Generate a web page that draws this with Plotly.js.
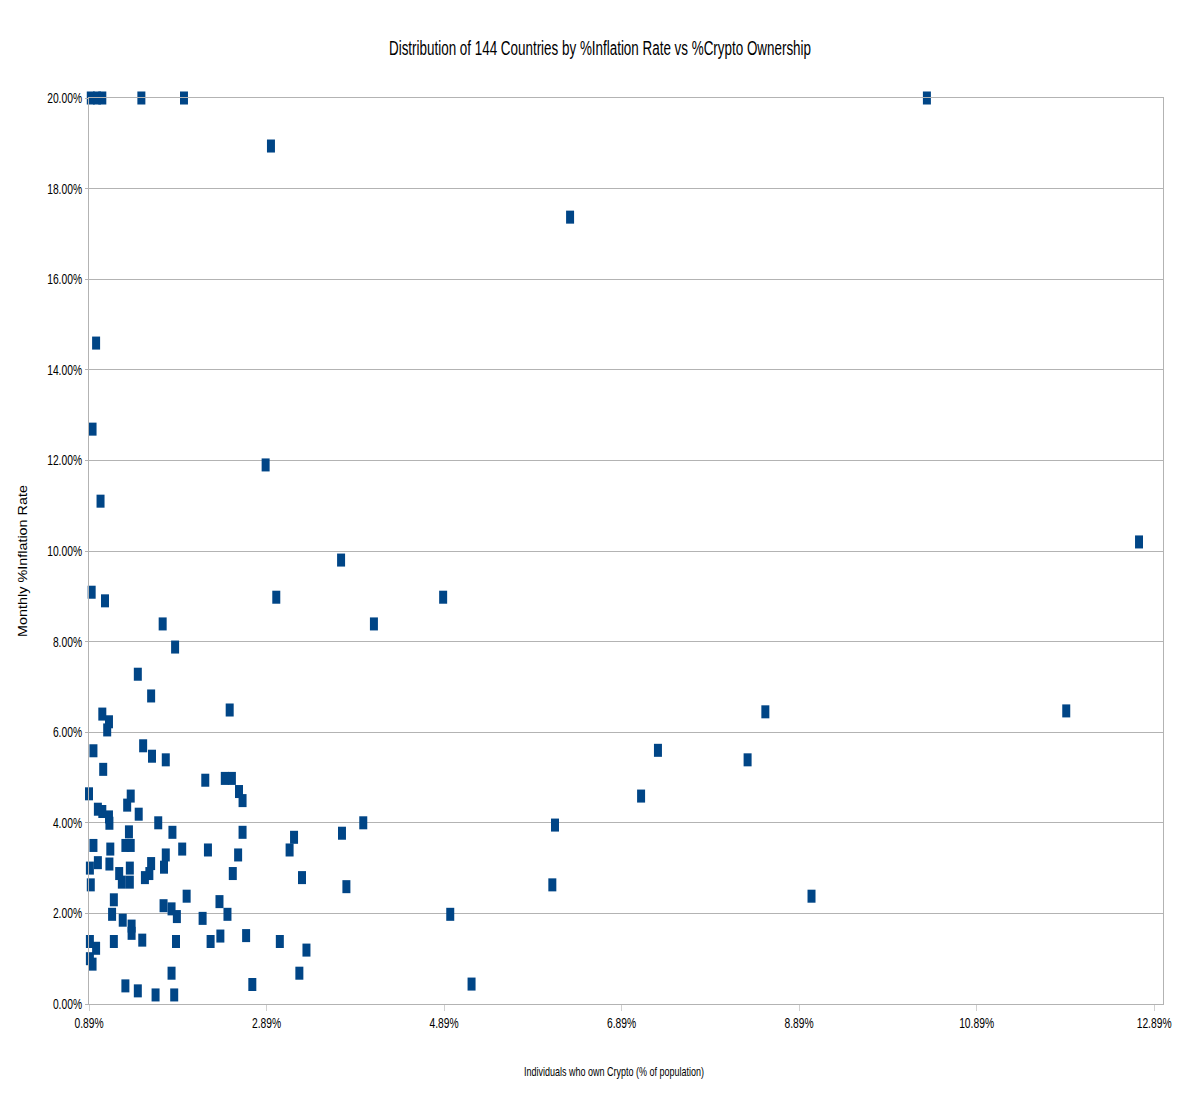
<!DOCTYPE html>
<html>
<head>
<meta charset="utf-8">
<script src="https://cdn.plot.ly/plotly-3.0.1.min.js"></script>
<style>html,body{margin:0;padding:0;background:#fff}#chart{width:1200px;height:1103px}</style>
</head>
<body>
<div id="chart"></div>
<script>
// % of population owning crypto
const cryptoOwnership = [
  0.91, 0.98, 1.04, 1.48, 1.96, 10.33, 2.94, 6.31, 0.97, 0.93,
  2.88, 1.02, 12.72, 3.73, 0.92, 1.07, 3.00, 4.88, 1.72, 4.10,
  1.86, 1.44, 1.59, 2.475, 8.51, 11.90, 1.04, 1.115, 1.095, 1.50,
  0.94, 7.30, 1.60, 1.755, 8.31, 1.05, 2.20, 2.42, 2.50, 2.58,
  2.62, 0.89, 1.36, 7.11, 1.32, 0.99, 1.04, 1.115, 1.12, 1.45,
  1.67, 3.98, 6.14, 1.34, 1.83, 2.62, 3.74, 3.20, 0.94, 1.30,
  1.36, 1.13, 1.94, 2.23, 3.15, 1.755, 2.57, 0.99, 1.12, 1.59,
  0.90, 1.35, 1.735, 1.23, 1.57, 2.51, 1.52, 3.29, 1.26, 1.35,
  0.91, 3.79, 6.11, 1.99, 9.03, 1.17, 2.36, 1.73, 1.82, 1.15,
  1.88, 2.45, 4.96, 1.27, 2.17, 1.37, 1.37, 2.37, 2.66, 0.90,
  1.17, 1.49, 1.87, 2.26, 3.04, 0.97, 3.34, 0.90, 0.93, 1.82,
  3.26, 2.73, 5.20, 1.30, 1.44, 1.64, 1.85
];
// monthly inflation rate, %
const inflationRate = [
  20.00, 20.00, 20.00, 20.00, 20.00, 20.00, 18.94, 17.37, 14.59, 12.69,
  11.90, 11.10, 10.20, 9.80, 9.09, 8.90, 8.98, 8.98, 8.39, 8.39,
  7.88, 7.28, 6.80, 6.49, 6.45, 6.47, 6.40, 6.23, 6.05, 5.70,
  5.59, 5.60, 5.47, 5.39, 5.39, 5.18, 4.94, 4.98, 4.98, 4.69,
  4.49, 4.64, 4.59, 4.59, 4.39, 4.30, 4.25, 4.13, 3.99, 4.19,
  4.00, 4.00, 3.95, 3.80, 3.79, 3.79, 3.77, 3.68, 3.50, 3.50,
  3.50, 3.42, 3.42, 3.40, 3.40, 3.29, 3.29, 3.12, 3.09, 3.10,
  3.00, 3.00, 3.02, 2.88, 2.88, 2.88, 2.79, 2.79, 2.69, 2.69,
  2.63, 2.59, 2.63, 2.38, 2.38, 2.30, 2.26, 2.17, 2.10, 1.98,
  1.93, 1.98, 1.98, 1.85, 1.89, 1.72, 1.56, 1.50, 1.51, 1.38,
  1.38, 1.41, 1.38, 1.38, 1.38, 1.23, 1.19, 1.00, 0.88, 0.68,
  0.68, 0.43, 0.44, 0.40, 0.29, 0.20, 0.20
];
const xTickVals = [0.89, 2.89, 4.89, 6.89, 8.89, 10.89, 12.89];
const xTickText = ['0.89%', '2.89%', '4.89%', '6.89%', '8.89%', '10.89%', '12.89%'];
const yTickVals = [0, 2, 4, 6, 8, 10, 12, 14, 16, 18, 20];
const yTickText = ['0.00%', '2.00%', '4.00%', '6.00%', '8.00%', '10.00%', '12.00%', '14.00%', '16.00%', '18.00%', '20.00%'];
const chartTitle = 'Distribution of 144 Countries by %Inflation Rate vs %Crypto Ownership';
const xTitle = 'Individuals who own Crypto (% of population)';
const yTitle = 'Monthly %Inflation Rate';

const sans = '"Liberation Sans", Arial, sans-serif';
const L = 89, R = 37, T = 98, B = 99, W = 1200, H = 1103;
const plotW = W - L - R, plotH = H - T - B;

const trace = {
  type: 'scatter',
  mode: 'markers',
  x: cryptoOwnership,
  y: inflationRate,
  cliponaxis: false,
  marker: {
    symbol: 'line-ns-open',
    size: 9.3,
    color: '#004586',
    line: {width: 8, color: '#004586'}
  },
  hoverinfo: 'x+y'
};

const layout = {
  width: W,
  height: H,
  margin: {l: L, r: R, t: T, b: B, pad: 0},
  paper_bgcolor: '#ffffff',
  plot_bgcolor: '#ffffff',
  showlegend: false,
  title: {
    text: chartTitle,
    font: {family: sans, size: 20, color: '#000000'},
    x: 0.5, xanchor: 'center', y: 1 - 48/H, yanchor: 'middle'
  },
  xaxis: {
    range: [0.89, 12.99],
    tickvals: xTickVals,
    ticktext: xTickText,
    showgrid: false,
    zeroline: false,
    showline: true,
    linecolor: '#b3b3b3',
    linewidth: 1,
    mirror: true,
    ticks: 'outside',
    ticklen: 6,
    tickcolor: '#d0d0d0',
    tickfont: {family: sans, size: 14.5, color: '#000000'}
  },
  yaxis: {
    range: [0, 20],
    tickvals: yTickVals,
    ticktext: yTickText,
    showgrid: true,
    gridcolor: '#b3b3b3',
    gridwidth: 1,
    zeroline: false,
    showline: true,
    linecolor: '#b3b3b3',
    linewidth: 1,
    mirror: true,
    ticks: 'outside',
    ticklen: 3,
    tickcolor: '#b3b3b3',
    tickfont: {family: sans, size: 14.5, color: '#000000'}
  },
  annotations: [
    {
      text: xTitle, showarrow: false,
      xref: 'paper', yref: 'paper',
      x: (614 - L) / plotW, y: -(1071 - (T + plotH)) / plotH,
      xanchor: 'center', yanchor: 'middle',
      font: {family: sans, size: 13.5, color: '#000000'}
    },
    {
      text: yTitle, showarrow: false, textangle: -90,
      xref: 'paper', yref: 'paper',
      x: (23 - L) / plotW, y: 1 - (561 - T) / plotH,
      xanchor: 'center', yanchor: 'middle',
      font: {family: sans, size: 12.5, color: '#000000'}
    }
  ]
};

function squeezeEl(t, opts) {
  const w = t.getComputedTextLength();
  if (!w) return;
  const target = opts.width ? opts.width : w * opts.factor;
  t.setAttribute('textLength', target.toFixed(2));
  t.setAttribute('lengthAdjust', 'spacingAndGlyphs');
}
function squeeze(selector, opts) {
  document.querySelectorAll(selector).forEach(function (t) { squeezeEl(t, opts); });
}

Plotly.newPlot('chart', [trace], layout, {displayModeBar: false, staticPlot: true}).then(function () {
  squeeze('.gtitle', {width: 422});
  squeeze('.xtick text', {factor: 0.71});
  squeeze('.ytick text', {factor: 0.71});
  const ann = document.querySelectorAll('text.annotation-text');
  ann.forEach(function (t) {
    const s = t.textContent;
    if (s === xTitle) squeezeEl(t, {width: 180});
    else if (s === yTitle) squeezeEl(t, {width: 152});
  });
});
</script>
</body>
</html>
